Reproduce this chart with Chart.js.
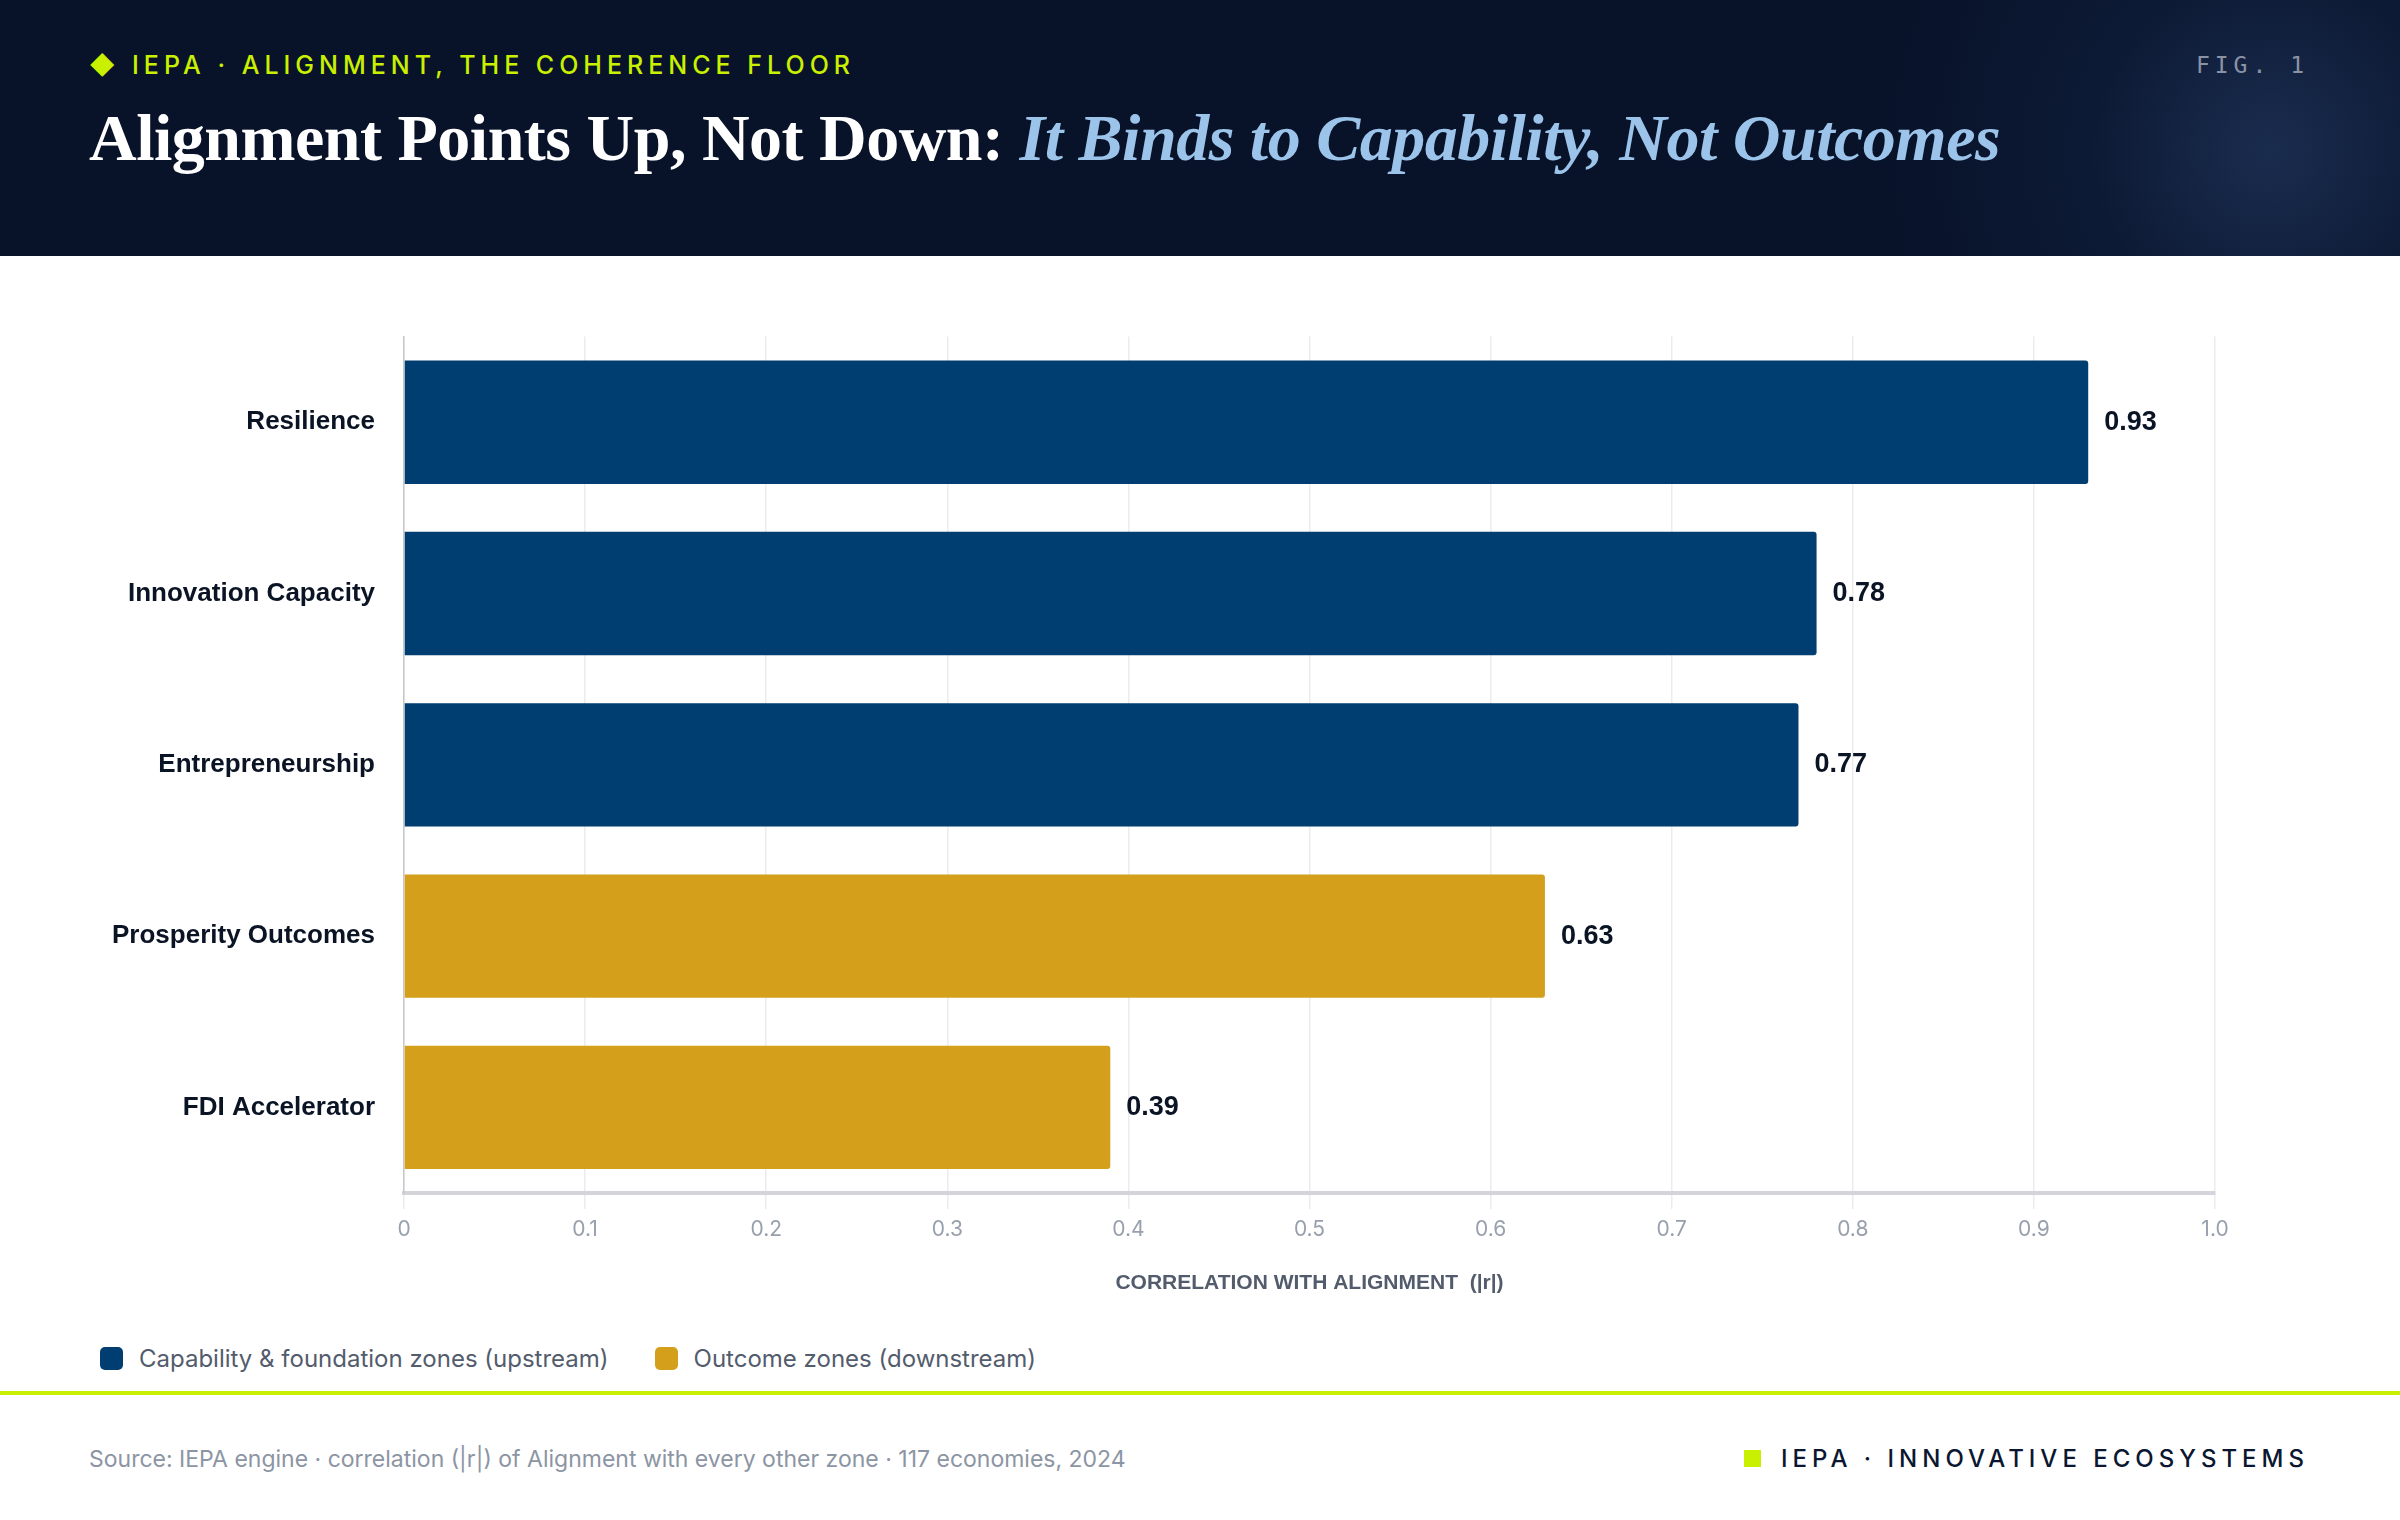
<!DOCTYPE html>
<html>
<head>
<meta charset="utf-8">
<script src="https://cdn.jsdelivr.net/npm/chart.js@4.4.1/dist/chart.umd.min.js"></script>
<style>
  html, body { margin: 0; padding: 0; background: #fff; }
  body { width: 2400px; height: 1520px; position: relative; overflow: hidden; font-family: Inter, "Noto Sans", sans-serif; }
  .head { position: absolute; left: 0; top: 0; width: 2400px; height: 256px;
    background: radial-gradient(circle at 2270px 150px, #1a2c4e 0, #0d1a35 180px, #08132a 380px); }
  .kicker { position: absolute; left: 89px; top: 50px; color: #c8f000; font-size: 25px; letter-spacing: 5px; font-weight: 500; }
  .fig { position: absolute; right: 91px; top: 52px; color: #8a93a6; font-family: "DejaVu Sans Mono", monospace; font-size: 23px; letter-spacing: 5px; }
  .title { position: absolute; left: 89px; top: 100px; color: #fff; font-family: "Liberation Serif", serif; font-weight: bold; font-size: 66px; letter-spacing: -0.5px; white-space: nowrap; }
  .title i { color: #9cc4ea; }
  .wrap { position: absolute; left: 0; top: 300px; width: 2400px; height: 1000px; }
  .legend { position: absolute; left: 100px; top: 1344px; font-size: 24px; color: #535c6c; display: flex; gap: 46px; }
  .legend span { display: inline-flex; align-items: center; }
  .legend b { display: inline-block; width: 23px; height: 23px; border-radius: 5px; margin-right: 16px; }
  .rule { position: absolute; left: 0; top: 1391px; width: 2400px; height: 4px; background: #c8f000; }
  .src { position: absolute; left: 89px; top: 1445px; font-size: 23px; color: #8c95a3; }
  .brand { position: absolute; right: 91px; top: 1444px; font-size: 24px; color: #0b1730; letter-spacing: 5px; font-weight: 500; display: flex; align-items: center; }
  .brand b { display: inline-block; width: 17px; height: 17px; background: #c8f000; margin-right: 20px; }
</style>
</head>
<body>
<div class="head">
  <div class="kicker">◆ IEPA · ALIGNMENT, THE COHERENCE FLOOR</div>
  <div class="fig">FIG. 1</div>
  <div class="title">Alignment Points Up, Not Down: <i>It Binds to Capability, Not Outcomes</i></div>
</div>
<div class="wrap"><canvas id="c"></canvas></div>
<div class="legend">
  <span><b style="background:#003d70"></b>Capability &amp; foundation zones (upstream)</span>
  <span><b style="background:#d4a01c"></b>Outcome zones (downstream)</span>
</div>
<div class="rule"></div>
<div class="src">Source: IEPA engine · correlation (|r|) of Alignment with every other zone · 117 economies, 2024</div>
<div class="brand"><b></b>IEPA · INNOVATIVE ECOSYSTEMS</div>
<script>
const zones = ['Resilience', 'Innovation Capacity', 'Entrepreneurship', 'Prosperity Outcomes', 'FDI Accelerator'];
const correlations = [0.93, 0.78, 0.77, 0.63, 0.39];
const isUpstream = [true, true, true, false, false];
const xTicks = [0, 0.1, 0.2, 0.3, 0.4, 0.5, 0.6, 0.7, 0.8, 0.9, 1.0];

const NAVY = '#003d70', GOLD = '#d4a01c';

// draws the value at the end of each bar
const valueLabels = {
  id: 'valueLabels',
  afterDatasetsDraw(chart) {
    const ctx = chart.ctx;
    ctx.save();
    ctx.font = 'bold 27px "Liberation Sans", Arial, sans-serif';
    ctx.fillStyle = '#0b1424';
    ctx.textBaseline = 'middle';
    chart.getDatasetMeta(0).data.forEach((bar, i) => {
      ctx.fillText(correlations[i].toFixed(2), bar.x + 16, bar.y);
    });
    ctx.restore();
  }
};

new Chart(document.getElementById('c'), {
  type: 'bar',
  data: {
    labels: zones,
    datasets: [{
      data: correlations,
      backgroundColor: isUpstream.map(u => u ? NAVY : GOLD),
      borderRadius: 3,
      borderSkipped: 'start',
      categoryPercentage: 0.72,
      barPercentage: 1,
    }],
  },
  options: {
    indexAxis: 'y',
    responsive: true, maintainAspectRatio: false,
    animation: false,
    layout: { padding: { top: 22, right: 185, left: 0, bottom: 0 } },
    plugins: { legend: { display: false }, tooltip: { enabled: false } },
    scales: {
      x: {
        min: 0, max: 1,
        afterBuildTicks: s => { s.ticks = xTicks.map(v => ({ value: v })); },
        afterFit: s => { s.height = 107; },
        grid: { color: '#ececef', lineWidth: 1.5, tickLength: 16, drawTicks: true },
        border: { color: '#d4d4da', width: 4 },
        ticks: { color: '#98a0ad', padding: 8, font: { family: 'Inter', size: 21 },
          callback: v => v === 0 ? '0' : v === 1 ? '1.0' : String(v) },
        title: { display: true, text: 'CORRELATION WITH ALIGNMENT  (|r|)', color: '#535c6c',
          font: { family: '"Liberation Sans", Arial', size: 21, weight: 'bold' }, padding: { top: 8 } },
      },
      y: {
        afterFit: s => { s.width = 404; },
        grid: { display: false },
        border: { color: '#c8c8cc', width: 1.5 },
        ticks: { color: '#0b1424', padding: 21, font: { family: '"Liberation Sans", Arial', size: 26, weight: 'bold' } },
      },
    },
  },
  plugins: [valueLabels],
});
</script>
</body>
</html>
